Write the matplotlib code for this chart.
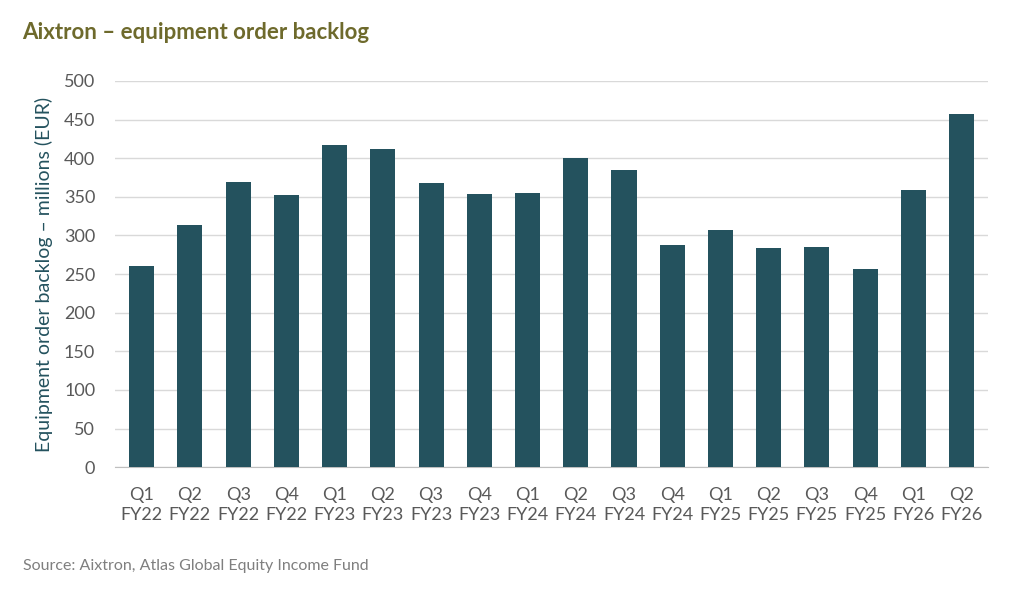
import matplotlib.pyplot as plt

quarters = ["Q1", "Q2", "Q3", "Q4"] * 4 + ["Q1", "Q2"]
years = ["FY22"] * 4 + ["FY23"] * 4 + ["FY24"] * 4 + ["FY25"] * 4 + ["FY26"] * 2
backlog = [260, 313, 369, 352, 417, 412, 368, 354, 355, 400, 384, 288,
           307, 284, 285, 257, 359, 457]

plt.rcParams['font.family'] = ['Source Sans Pro', 'Lato', 'DejaVu Sans']

fig = plt.figure(figsize=(10.24, 5.99), dpi=100)
ax = fig.add_axes([0.112, 0.22, 0.853, 0.645])

labels = [q + "\n" + y for q, y in zip(quarters, years)]
x = range(len(backlog))
ax.bar(x, backlog, width=0.52, color='#24525e', zorder=3)
ax.set_xticks(list(x))
ax.set_xticklabels(labels, fontsize=13, color='#595959', linespacing=1.3)
ax.set_xlim(-0.56, len(backlog) - 0.45)
ax.set_ylim(0, 500)
ax.set_yticks(range(0, 501, 50))
ax.tick_params(axis='y', labelsize=13, labelcolor='#595959', length=0, pad=14)
ax.tick_params(axis='x', length=0, pad=14)
ax.grid(axis='y', color='#d9d9d9', linewidth=1, zorder=0)
for s in ['top', 'right', 'left']:
    ax.spines[s].set_visible(False)
ax.spines['bottom'].set_color('#bfbfbf')
ax.set_ylabel("Equipment order backlog – millions (EUR)", fontsize=14,
              color='#24525e', labelpad=8)

fig.text(0.022, 0.945, "Aixtron – equipment order backlog", fontsize=16,
         fontweight='bold', color='#6e6a2c', va='center')
fig.text(0.022, 0.055, "Source: Aixtron, Atlas Global Equity Income Fund",
         fontsize=11.5, color='#7f7f7f', va='center')

fig.savefig("out.png", dpi=100)
